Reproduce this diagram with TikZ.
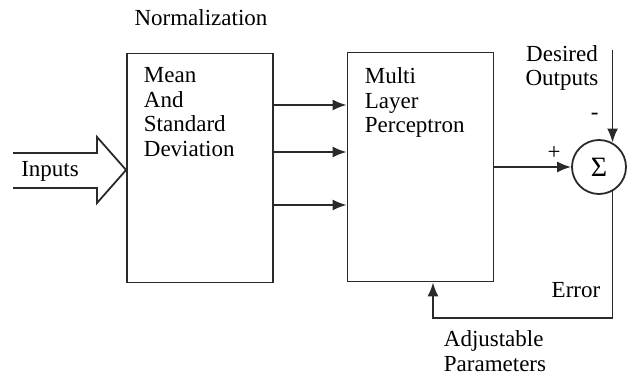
\documentclass[tikz,border=0pt]{standalone}
\usepackage{fontspec}
\setmainfont{Liberation Serif}
\usetikzlibrary{arrows.meta,positioning,calc}
\definecolor{LineGray}{HTML}{2A2A2A}

\begin{document}
\begin{tikzpicture}[x=1pt,y=-1pt,>={Latex[length=14pt,width=11pt]},
  line width=1.8pt,draw=LineGray,
  blk/.style={draw,rectangle,minimum width=146pt,minimum height=229pt,inner sep=0pt},
  txt/.style={font=\fontsize{23}{24.5}\selectfont,inner sep=0pt,align=left,text=black}]
  \useasboundingbox (0,0) rectangle (627,379);
  \node[blk] (norm) at (200,168) {};
  \node[blk] (mlp) at (420.5,167) {};
  \node[draw,circle,minimum size=54pt,inner sep=0pt,font=\fontsize{28}{28}\selectfont] (sum) at (599,167) {Σ};
  \node[txt,anchor=north west] (normtxt) at (143,67) {Mean\\And\\Standard\\Deviation};
  \node[txt,anchor=north west] (mlptxt) at (364,67) {Multi\\Layer\\Perceptron};
  \node[txt] (normlbl) at (201,18) {Normalization};
  % hollow input arrow
  \draw (13,153) -- (97,153) -- (97,137) -- (norm.west |- 0,170) -- (97,203) -- (97,188) -- (13,188);
  \node[txt] (inlbl) at (50,171) {Inputs};
  \foreach \y in {105,152,205}
    {\draw[->] (norm.east |- 0,\y) -- (mlp.west |- 0,\y);}
  \draw[->] (mlp.east |- sum.west) -- (sum.west) node[txt,pos=0.78,above=7pt] (plus) {+};
  \coordinate (des) at (sum.61 |- 0,50);
  \draw[->] (des) -- (sum.61) node[txt,pos=0.72,left=13pt] (minus) {-};
  \node[txt,align=center] (deslbl) at (562,68) {Desired\\Outputs};
  % error feedback
  \coordinate (fb) at (433,318);
  \draw[->] (sum.-61) |- (fb) -- (fb |- mlp.south);
  \node[txt] (errlbl) at (576,290) {Error};
  \node[txt,anchor=north west] (adjlbl) at (443,330) {Adjustable\\Parameters};
\end{tikzpicture}
\end{document}
